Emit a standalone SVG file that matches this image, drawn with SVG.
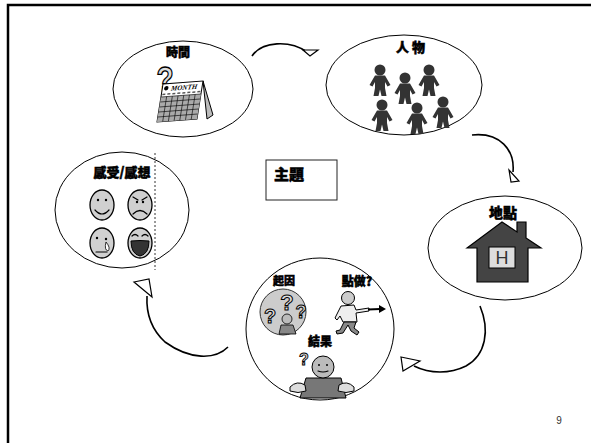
<svg xmlns="http://www.w3.org/2000/svg" width="591" height="443" viewBox="0 0 591 443">
<style>
.ell{fill:#fff;stroke:#000;stroke-width:1}
.conn{fill:none;stroke:#000;stroke-width:1.6}
.ah{fill:#fff;stroke:#000;stroke-width:1.2;stroke-linejoin:miter}
.lbl{font-family:"Noto Sans CJK TC","Noto Sans CJK SC",sans-serif;font-weight:900;font-size:13px;text-anchor:middle;fill:#000;stroke:#000;stroke-width:0.5}
.face{fill:#d0d0d0;stroke:#000;stroke-width:1.3}
.ln{fill:none;stroke:#000;stroke-width:1.2;stroke-linecap:round}
.qm{font-family:"Liberation Sans",sans-serif;font-weight:bold;fill:#ddd;stroke:#000;text-anchor:middle}
</style>
<defs>
<g id="person">
<circle cx="0" cy="0" r="5.5" fill="#333"/>
<path d="M-5,5.5 L5,5.5 L10.5,15 L7.5,16.5 L5,12 L5,18 L6.5,26 L1.5,26 L0,19.5 L-1.5,26 L-6.5,26 L-5,18 L-5,12 L-7.5,16.5 L-10.5,15 Z" fill="#333"/>
</g>
</defs>
<rect x="8" y="5" width="620" height="470" fill="none" stroke="#000" stroke-width="2.5"/>

<g id="connectors">
<path class="conn" d="M252,56 C262,41 290,40 307,52"/>
<polygon class="ah" points="303,50 318,50 310,56"/>
<path class="conn" d="M472,135 C500,132 515,150 513,172"/>
<polygon class="ah" points="509,170 511,182 519,181"/>
<path class="conn" d="M480,306 C490,330 486,355 466,366 C450,374 430,374 414,366"/>
<polygon class="ah" points="401,357 420,361 403,371"/>
<path class="conn" d="M228,347 C215,360 190,360 165,342 C152,330 146,315 147,296"/>
<polygon class="ah" points="134,282 149,279 152,297"/>
</g>

<g id="node-time">
<ellipse class="ell" cx="183" cy="89" rx="70" ry="48"/>
<text class="lbl" x="178" y="57" style="font-size:12px">時間</text>
<text class="qm" transform="translate(165,91) scale(1,1.25)" font-size="28" stroke-width="1.1">?</text>
<polygon points="203,81 213,115 207,119" fill="#bbb" stroke="#000" stroke-width="1"/>
<g transform="matrix(1,-0.075,-0.158,1,163,84)">
<rect x="0" y="0" width="40" height="38" fill="#fff" stroke="#000" stroke-width="1"/>
<rect x="0" y="13" width="40" height="25" fill="#aaa" stroke="none"/>
<path d="M0,13 H40 M0,18 H40 M0,23 H40 M0,28 H40 M0,33 H40 M5.7,13 V38 M11.4,13 V38 M17.1,13 V38 M22.8,13 V38 M28.5,13 V38 M34.2,13 V38" stroke="#000" stroke-width="0.6"/>
<path d="M1,10.5 H39" stroke="#555" stroke-width="1.5" stroke-dasharray="3,2"/>
<circle cx="4" cy="4.5" r="2.2" fill="#000"/>
<text x="9" y="7.5" font-family="Liberation Serif,serif" font-style="italic" font-weight="bold" font-size="7">MONTH</text>
</g>
</g>

<g id="node-people">
<ellipse class="ell" cx="404" cy="85" rx="78" ry="50"/>
<text class="lbl" x="412" y="52" letter-spacing="3">人物</text>
<use href="#person" x="380" y="70"/>
<use href="#person" x="405" y="78"/>
<use href="#person" x="429" y="70"/>
<use href="#person" x="382" y="105"/>
<use href="#person" x="417" y="108"/>
<use href="#person" x="443" y="102"/>
</g>

<g id="node-feelings">
<ellipse class="ell" cx="122" cy="210" rx="67" ry="58"/>
<text class="lbl" x="122" y="177">感受/感想</text>
<line x1="155" y1="153" x2="155" y2="270" stroke="#000" stroke-width="0.8" stroke-dasharray="2,2"/>
<ellipse class="face" cx="102" cy="205" rx="12" ry="15"/>
<circle cx="98" cy="200" r="1.2"/><circle cx="106" cy="200" r="1.2"/>
<path class="ln" d="M95,210 Q102,218 109,210"/>
<ellipse class="face" cx="140" cy="205" rx="12" ry="15"/>
<path class="ln" d="M133,197 L138,200 M147,197 L142,200 M133,214 Q140,207 147,214"/>
<circle cx="137" cy="202" r="1.2"/><circle cx="143" cy="202" r="1.2"/>
<ellipse class="face" cx="102" cy="243" rx="12" ry="15"/>
<circle cx="97" cy="238" r="1.2"/><circle cx="106" cy="239" r="1.2"/>
<path class="ln" d="M96,252 L107,252"/>
<path d="M106,242 Q111,248 108,251 Q104,250 106,242 Z" fill="#fff" stroke="#000" stroke-width="0.8"/>
<ellipse class="face" cx="140" cy="243" rx="12" ry="15"/>
<path class="ln" d="M132,236 Q135,233 138,236 M142,236 Q145,233 148,236"/>
<path d="M131,241 Q140,240 149,241 Q149,254 140,256 Q131,254 131,241 Z" fill="#333" stroke="#000" stroke-width="1"/>
</g>

<g id="node-theme">
<rect x="266" y="160" width="71" height="40" fill="#fff" stroke="#222" stroke-width="1"/>
<text class="lbl" x="274" y="180" style="font-size:15px;text-anchor:start">主題</text>
</g>

<g id="node-place">
<ellipse class="ell" cx="505" cy="248" rx="77" ry="52"/>
<text class="lbl" x="503" y="218" style="font-size:14px">地點</text>
<path d="M467,248 L502,222 L517,232 L517,222 L526,222 L526,238 L541,248 L528,248 L528,282 L477,282 L477,248 Z" fill="#444" stroke="#000" stroke-width="1.2"/>
<rect x="489" y="247" width="26" height="21" fill="#ddd" stroke="#000" stroke-width="1"/>
<text x="502" y="264" font-family="Liberation Sans,sans-serif" font-size="18" text-anchor="middle" fill="#333">H</text>
</g>

<g id="node-plot">
<ellipse class="ell" cx="320" cy="329" rx="74" ry="71"/>
<circle cx="283" cy="312" r="23" fill="#ccc" stroke="#333" stroke-width="1"/>
<text class="qm" x="287" y="310" font-size="22" stroke-width="1">?</text>
<text class="qm" x="270" y="323" font-size="20" stroke-width="1">?</text>
<text class="qm" x="301" y="318" font-size="18" stroke-width="1">?</text>
<circle cx="287" cy="319" r="5" fill="#bbb" stroke="#000" stroke-width="0.8"/>
<path d="M279,334 L281,325 L293,325 L296,334 Z" fill="#888" stroke="#000" stroke-width="0.8"/>
<text class="lbl" x="284" y="285" style="font-size:11px">起因</text>
<text class="lbl" x="357" y="286" style="font-size:12px">點做?</text>
<circle cx="348" cy="298" r="6.5" fill="#ccc" stroke="#000" stroke-width="1"/>
<path d="M341,306 L354,305 L356,310 L369,308 L369,311 L356,313 L357,322 L343,322 L340,316 L337,320 L335,318 Z" fill="#eee" stroke="#000" stroke-width="1"/>
<path d="M344,322 L340,330 L336,331 L337,334 L343,333 L348,325 L351,331 L357,335 L359,332 L354,328 L356,322 Z" fill="#888" stroke="#000" stroke-width="1"/>
<line x1="368" y1="309.5" x2="380" y2="309" stroke="#000" stroke-width="1.8"/>
<polygon points="379,305 386,309 379,313" fill="#000"/>
<text class="lbl" x="320" y="346" style="font-size:12px">結果</text>
<text class="qm" x="304" y="365" font-size="16" stroke-width="0.9">?</text>
<path d="M306,378 L341,378 L346,398 L300,398 Z" fill="#777" stroke="#000" stroke-width="1"/>
<circle cx="323" cy="367" r="11" fill="#bbb" stroke="#000" stroke-width="1"/>
<circle cx="319" cy="365" r="1"/><circle cx="327" cy="365" r="1"/>
<path class="ln" d="M318,371 Q323,373 328,371" stroke-width="0.9"/>
<path d="M290,387 Q297,380 305,385 L306,391 Q298,394 290,391 Z" fill="#ddd" stroke="#000" stroke-width="1"/>
<path d="M354,387 Q347,380 339,385 L338,391 Q346,394 354,391 Z" fill="#ddd" stroke="#000" stroke-width="1"/>
</g>

<text x="559" y="424" font-family="Liberation Sans,sans-serif" font-size="10" text-anchor="middle" fill="#333">9</text>
</svg>
